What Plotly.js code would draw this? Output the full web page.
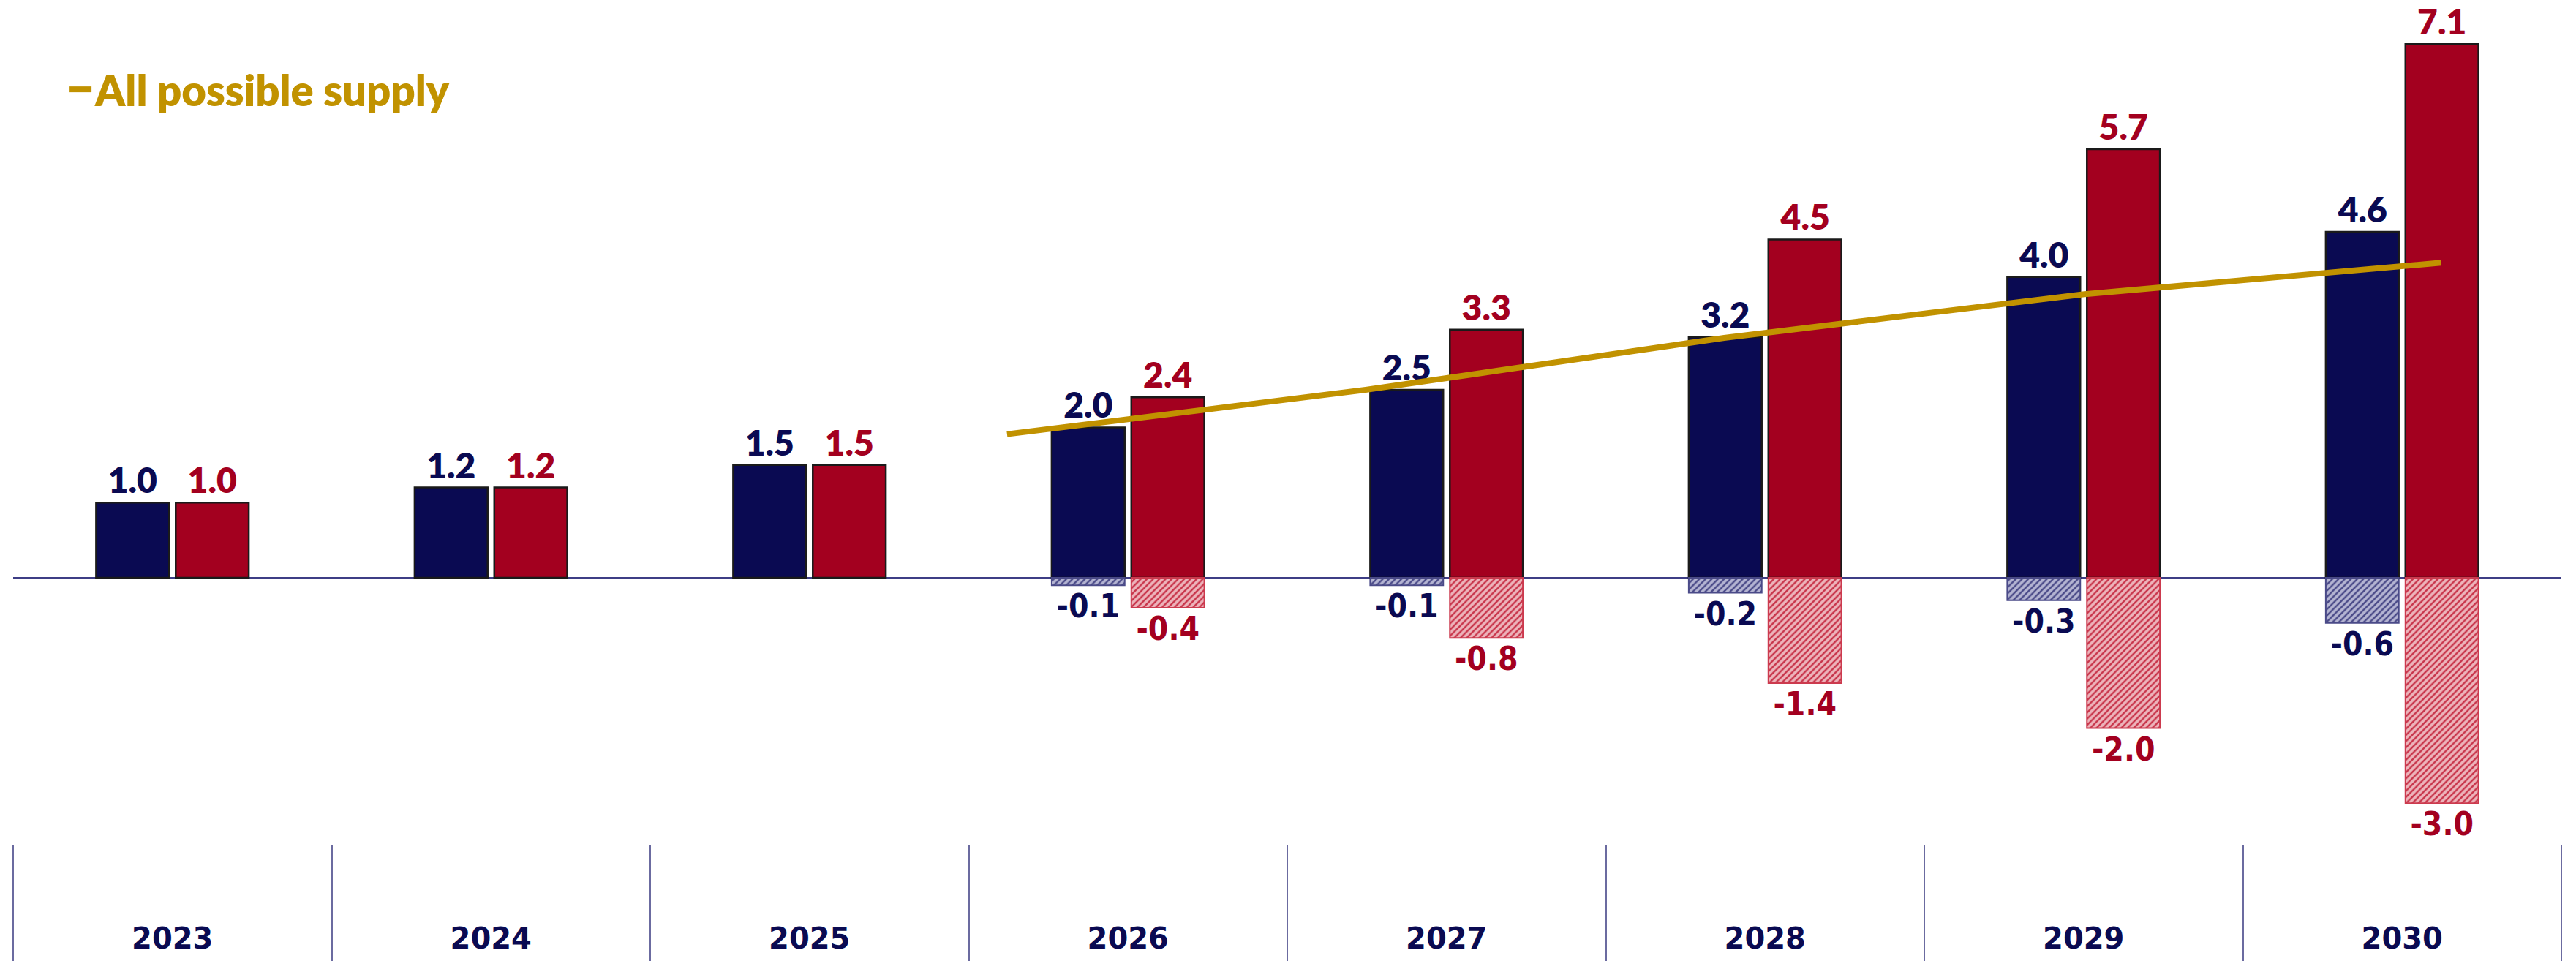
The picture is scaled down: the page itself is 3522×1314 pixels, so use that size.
<!DOCTYPE html>
<html>
<head>
<meta charset="utf-8">
<script src="https://cdn.plot.ly/plotly-3.0.1.min.js"></script>
<style>
  html, body { margin: 0; padding: 0; background: #ffffff; }
  #chart { width: 3522px; height: 1314px; }
</style>
</head>
<body>
<div id="chart"></div>
<script>
// ---- Data ----
const years = ['2023', '2024', '2025', '2026', '2027', '2028', '2029', '2030'];
const bluePositive = [1.0, 1.2, 1.5, 2.0, 2.5, 3.2, 4.0, 4.6];
const redPositive  = [1.0, 1.2, 1.5, 2.4, 3.3, 4.5, 5.7, 7.1];
const blueNegative = [null, null, null, -0.1, -0.1, -0.2, -0.3, -0.6];
const redNegative  = [null, null, null, -0.4, -0.8, -1.4, -2.0, -3.0];
const supplyYears  = [2026, 2027, 2028, 2029, 2030];
const supplyValues = [1.91, 2.50, 3.19, 3.77, 4.19];
const supplyName   = 'All possible supply';

// ---- Styles ----
const NAVY = '#0a0a52';
const RED = '#a3001f';
const GOLD = '#c19200';
const posLabelFont = (c) => ({ family: 'Lato, "Open Sans", sans-serif', size: 48, color: c, weight: 800 });
const negLabelFont = (c) => ({ family: '"Liberation Sans Narrow", "DejaVu Sans Condensed", "Arial Narrow", sans-serif', size: 44, color: c, weight: 'bold' });

const traces = [
  {
    type: 'bar', x: years, y: bluePositive, offsetgroup: 'blue', showlegend: false,
    marker: { color: NAVY, line: { color: '#1a1a1a', width: 2.5 } },
    text: bluePositive.map(v => v.toFixed(1)), textposition: 'outside',
    textfont: posLabelFont(NAVY), cliponaxis: false, constraintext: 'none', hoverinfo: 'skip'
  },
  {
    type: 'bar', x: years, y: redPositive, offsetgroup: 'red', showlegend: false,
    marker: { color: RED, line: { color: '#1a1a1a', width: 2.5 } },
    text: redPositive.map(v => v.toFixed(1)), textposition: 'outside',
    textfont: posLabelFont(RED), cliponaxis: false, constraintext: 'none', hoverinfo: 'skip'
  },
  {
    type: 'bar', x: years, y: blueNegative, offsetgroup: 'blue', showlegend: false,
    marker: {
      color: '#b8b8d4', line: { color: '#4a4a88', width: 2 },
      pattern: { shape: '/', fgcolor: '#4a4a88', bgcolor: '#b4b4d2', size: 6, solidity: 0.4, fillmode: 'replace' }
    },
    text: blueNegative.map(v => v === null ? '' : v.toFixed(1)), textposition: 'outside',
    textfont: negLabelFont(NAVY), cliponaxis: false, constraintext: 'none', hoverinfo: 'skip'
  },
  {
    type: 'bar', x: years, y: redNegative, offsetgroup: 'red', showlegend: false,
    marker: {
      color: '#eeb8be', line: { color: '#cc3a4e', width: 2 },
      pattern: { shape: '/', fgcolor: '#c8344a', bgcolor: '#edb4bb', size: 6, solidity: 0.4, fillmode: 'replace' }
    },
    text: redNegative.map(v => v === null ? '' : v.toFixed(1)), textposition: 'outside',
    textfont: negLabelFont(RED), cliponaxis: false, constraintext: 'none', hoverinfo: 'skip'
  },
  {
    type: 'scatter', mode: 'lines', x: supplyYears, y: supplyValues, xaxis: 'x2', yaxis: 'y',
    name: supplyName, line: { color: GOLD, width: 8, shape: 'linear' }, cliponaxis: false, hoverinfo: 'skip'
  }
];

const layout = {
  width: 3522, height: 1314,
  margin: { l: 18, r: 20, t: 0, b: 159, pad: 0 },
  paper_bgcolor: '#ffffff', plot_bgcolor: '#ffffff',
  barmode: 'group', bargap: 0.5, bargroupgap: 0.083,
  showlegend: true,
  legend: {
    x: 0.0207, xanchor: 'left', y: 0.894, yanchor: 'middle',
    font: { family: 'Lato, "Open Sans", sans-serif', size: 58, color: GOLD, weight: 800 },
    bgcolor: 'rgba(0,0,0,0)', borderwidth: 0, itemclick: false, itemdoubleclick: false
  },
  xaxis: {
    type: 'category', range: [-0.5, 7.5], fixedrange: true,
    showgrid: false, zeroline: false, showline: false,
    tickson: 'boundaries', ticks: 'outside', ticklen: 159, tickwidth: 2, tickcolor: '#6b6ba0',
    ticklabelstandoff: 101,
    tickfont: { family: '"DejaVu Sans", sans-serif', size: 40, color: NAVY, weight: 'bold' }
  },
  xaxis2: {
    type: 'linear', overlaying: 'x', range: [2023.228, 2030.335], visible: false, fixedrange: true
  },
  yaxis: {
    range: [-3.551, 7.685], fixedrange: true,
    showgrid: false, showticklabels: false, ticks: '', showline: false,
    zeroline: true, zerolinecolor: '#3d3d85', zerolinewidth: 2
  }
};

Plotly.newPlot('chart', traces, layout, { staticPlot: true, displayModeBar: false });
</script>
</body>
</html>
